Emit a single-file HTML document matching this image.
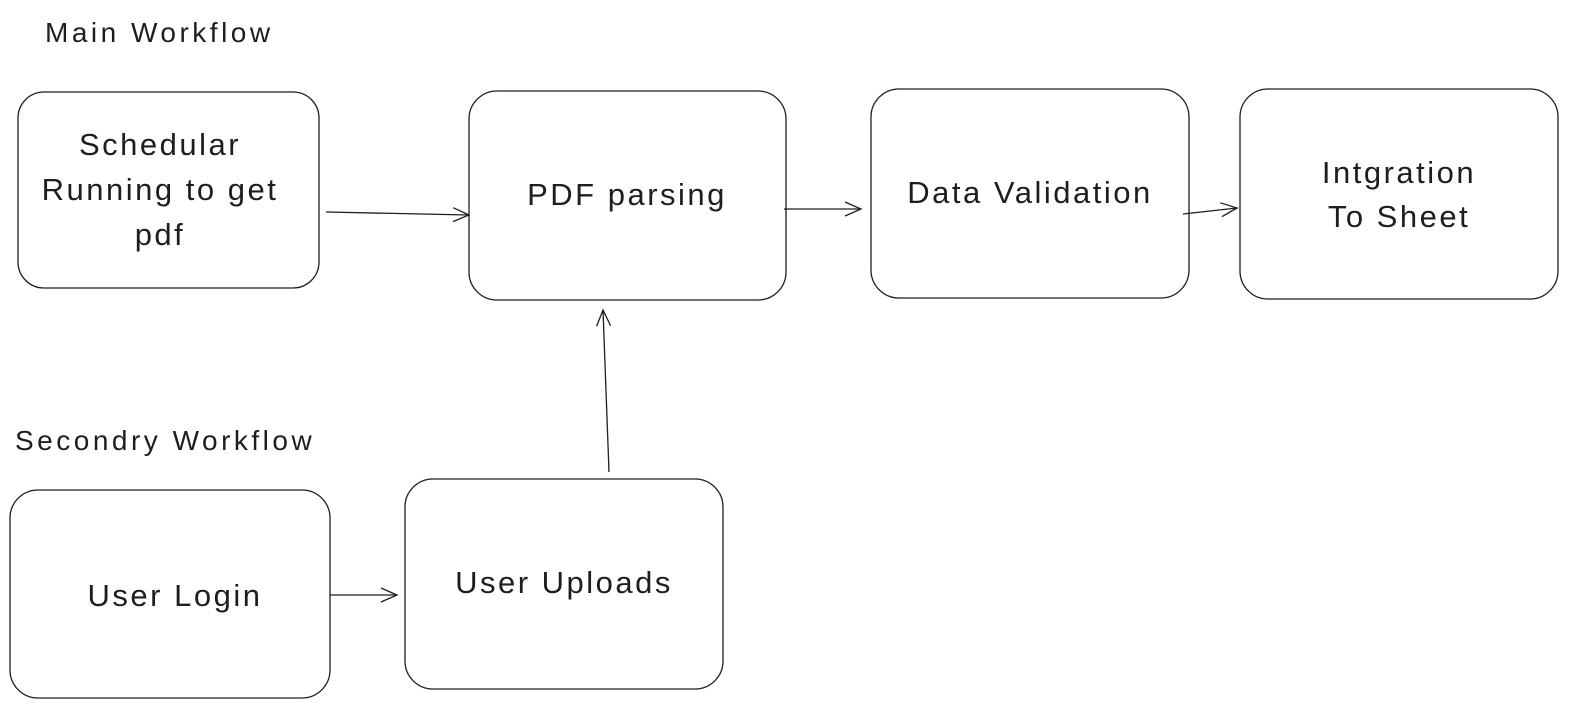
<!DOCTYPE html>
<html><head><meta charset="utf-8"><style>
html,body{margin:0;padding:0;background:#fff;}
svg text{font-family:"Liberation Sans",sans-serif;fill:#1e1e1e;}
</style></head><body>
<svg width="1570" height="710" viewBox="0 0 1570 710" xmlns="http://www.w3.org/2000/svg">
<defs>
<marker id="a" markerWidth="20" markerHeight="20" refX="18" refY="10" orient="auto" markerUnits="userSpaceOnUse">
<path d="M2,3 L18,10 L2,17" fill="none" stroke="#1e1e1e" stroke-width="1.3"/>
</marker>
</defs>
<g fill="none" stroke="#1e1e1e" stroke-width="1.3">
<rect x="18" y="92" width="301" height="196" rx="26"/>
<rect x="469" y="91" width="317" height="209" rx="28"/>
<rect x="871" y="89" width="318" height="209" rx="28"/>
<rect x="1240" y="89" width="318" height="210" rx="28"/>
<rect x="10" y="490" width="320" height="208" rx="28"/>
<rect x="405" y="479" width="318" height="210" rx="28"/>
<line x1="326" y1="212" x2="469" y2="215" marker-end="url(#a)"/>
<line x1="784" y1="209" x2="861" y2="209" marker-end="url(#a)"/>
<line x1="1183" y1="214" x2="1237" y2="208" marker-end="url(#a)"/>
<line x1="330" y1="595" x2="397" y2="595" marker-end="url(#a)"/>
<line x1="609" y1="472" x2="603" y2="310" marker-end="url(#a)"/>
</g>
<g font-size="31" text-anchor="middle" letter-spacing="2.5">
<text x="160" y="155">Schedular</text>
<text x="160" y="200">Running to get</text>
<text x="160" y="245">pdf</text>
<text x="627" y="205">PDF parsing</text>
<text x="1030" y="203">Data Validation</text>
<text x="1399" y="183">Intgration</text>
<text x="1399" y="227">To Sheet</text>
<text x="175" y="606">User Login</text>
<text x="564" y="593">User Uploads</text>
</g>
<text x="45" y="42" font-size="28" letter-spacing="3.5">Main Workflow</text>
<text x="15" y="450" font-size="28" letter-spacing="3.5">Secondry Workflow</text>
</svg>
</body></html>
